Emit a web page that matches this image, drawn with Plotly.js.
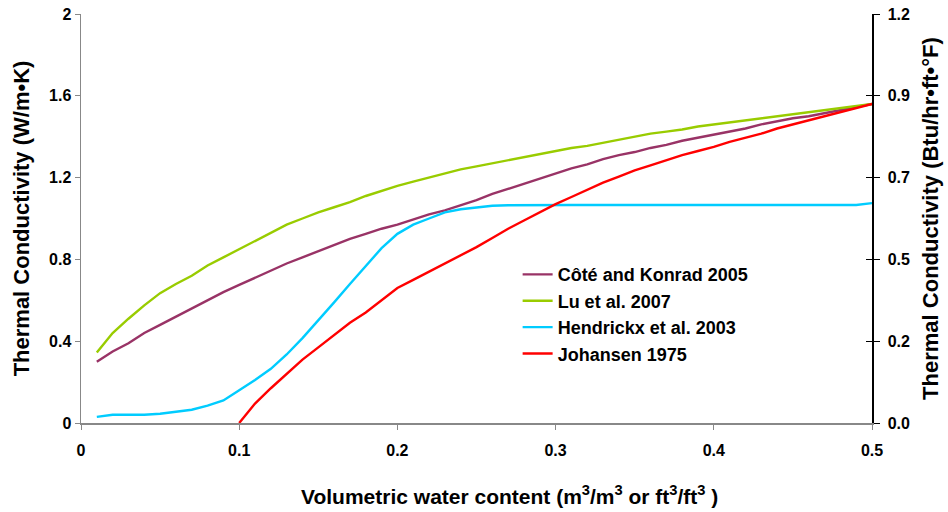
<!DOCTYPE html>
<html>
<head>
<meta charset="utf-8">
<script src="https://cdn.plot.ly/plotly-3.0.1.min.js"></script>
<style>html,body{margin:0;padding:0;background:#fff;}#chart{width:948px;height:512px;}</style>
</head>
<body>
<div id="chart"></div>
<script>
// water content (m3/m3)
const theta = [0.01,0.02,0.03,0.04,0.05,0.06,0.07,0.08,0.09,0.10,
  0.11,0.12,0.13,0.14,0.15,0.16,0.17,0.18,0.19,0.20,
  0.21,0.22,0.23,0.24,0.25,0.26,0.27,0.28,0.29,0.30,
  0.31,0.32,0.33,0.34,0.35,0.36,0.37,0.38,0.39,0.40,
  0.41,0.42,0.43,0.44,0.45,0.46,0.47,0.48,0.49,0.50];
const thetaJohansen = theta.slice(9);

const coteKonrad = [0.30,0.35,0.39,0.44,0.48,0.52,0.56,0.60,0.64,0.675,
  0.71,0.745,0.78,0.81,0.84,0.87,0.90,0.925,0.95,0.97,
  0.995,1.02,1.04,1.065,1.09,1.12,1.145,1.17,1.195,1.22,
  1.245,1.265,1.29,1.31,1.325,1.345,1.36,1.38,1.395,1.41,
  1.425,1.44,1.46,1.475,1.49,1.50,1.515,1.53,1.545,1.56];

const lu2007 = [0.345,0.44,0.51,0.575,0.635,0.68,0.72,0.77,0.81,0.85,
  0.89,0.93,0.97,1.00,1.03,1.055,1.08,1.11,1.135,1.16,
  1.18,1.20,1.22,1.24,1.255,1.27,1.285,1.30,1.315,1.33,
  1.345,1.355,1.37,1.385,1.40,1.415,1.425,1.435,1.45,1.46,
  1.47,1.48,1.49,1.50,1.51,1.52,1.53,1.54,1.55,1.56];

const hendrickx = [0.03,0.04,0.04,0.04,0.045,0.055,0.065,0.085,0.11,0.16,
  0.21,0.265,0.335,0.415,0.50,0.59,0.68,0.77,0.855,0.925,
  0.97,1.00,1.03,1.045,1.055,1.062,1.065,1.066,1.066,1.066,
  1.066,1.066,1.066,1.066,1.066,1.066,1.066,1.066,1.066,1.066,
  1.066,1.066,1.066,1.066,1.066,1.066,1.066,1.066,1.066,1.075];

const johansen = [0.00,0.095,0.17,0.24,0.31,0.37,0.43,0.49,0.54,0.60,
  0.66,0.70,0.74,0.78,0.82,0.86,0.905,0.95,0.99,1.03,
  1.07,1.105,1.14,1.175,1.205,1.235,1.26,1.285,1.31,1.33,
  1.35,1.375,1.395,1.415,1.44,1.46,1.48,1.50,1.52,1.54,1.56];

const seriesNames = ['Côté and Konrad 2005','Lu et al. 2007','Hendrickx et al. 2003','Johansen 1975'];
const colors = ['#993366','#99CC00','#00CCFF','#FF0000'];

const leftTicks = [0,0.4,0.8,1.2,1.6,2];
const leftTickText = ['0','0.4','0.8','1.2','1.6','2'];
const rightTickText = ['0.0','0.2','0.5','0.7','0.9','1.2'];
const xTicks = [0,0.1,0.2,0.3,0.4,0.5];
const xTickText = ['0','0.1','0.2','0.3','0.4','0.5'];

const FONT = 'Liberation Sans, Arial, sans-serif';
const B = s => '<b>' + s + '</b>';
const ys = [coteKonrad, lu2007, hendrickx, johansen];
const xs = [theta, theta, theta, thetaJohansen];

const traces = ys.map((y,i)=>({
  type:'scatter', mode:'lines', x: xs[i], y: y, name: B(seriesNames[i]),
  legendgroup: 'g'+i,
  line:{color: colors[i], width: 2.4}
}));
traces.push({type:'scatter', mode:'lines', x:[0], y:[0], yaxis:'y2', showlegend:false, hoverinfo:'skip', line:{width:0}, opacity:0});
traces.push({type:'scatter', mode:'lines', x:[0], y:[0], yaxis:'y3', showlegend:false, hoverinfo:'skip', line:{width:0}, opacity:0});

const layout = {
  width:948, height:512,
  margin:{l:81, r:76, t:14, b:89},
  paper_bgcolor:'#fff', plot_bgcolor:'#fff',
  font:{family:FONT, color:'#000', size:16},
  showlegend:true,
  legend:{x:0.552, y:0.408, xanchor:'left', yanchor:'top', bgcolor:'rgba(0,0,0,0)',
    font:{family:FONT, size:18, color:'#000'}, tracegroupgap:0, itemwidth:30},
  xaxis:{range:[0,0.5], tickvals:xTicks, ticktext:xTickText.map(B), showgrid:false, zeroline:false,
    showline:true, linecolor:'#888', linewidth:1.5, ticks:'outside', ticklen:5, tickcolor:'#888',
    ticklabelstandoff:7, tickfont:{family:FONT, size:16}},
  yaxis:{range:[0,2], tickvals:leftTicks, ticktext:leftTickText.map(B), showgrid:false, zeroline:false,
    showline:true, linecolor:'#888', linewidth:1.5, ticks:'outside', ticklen:5, tickcolor:'#888',
    tickfont:{family:FONT, size:16},
    title:{text:B('Thermal Conductivity (W/m•K)'), font:{family:FONT, size:22}, standoff:13}},
  yaxis2:{range:[0,2], overlaying:'y', side:'right', tickvals:leftTicks, ticktext:rightTickText.map(B),
    showgrid:false, zeroline:false, showline:true, linecolor:'#000', linewidth:1.5,
    ticks:'outside', ticklen:6, tickcolor:'#000', ticklabelstandoff:5,
    tickfont:{family:FONT, size:16},
    title:{text:B('Thermal Conductivity (Btu/hr•ft•°F)'), font:{family:FONT, size:22}, standoff:13}},
  yaxis3:{range:[0,2], overlaying:'y', side:'right', tickvals:leftTicks, showticklabels:false,
    showgrid:false, zeroline:false, showline:false, ticks:'inside', ticklen:6, tickcolor:'#000'},
  annotations:[{xref:'paper', yref:'paper', x:0.542, y:-0.176, xanchor:'center', yanchor:'middle',
    showarrow:false, text:B('Volumetric water content (m<sup>3</sup>/m<sup>3</sup> or ft<sup>3</sup>/ft<sup>3</sup> )'),
    font:{family:FONT, size:21, color:'#000'}}]
};

Plotly.newPlot('chart', traces, layout, {displayModeBar:false, staticPlot:true});
</script>
</body>
</html>
